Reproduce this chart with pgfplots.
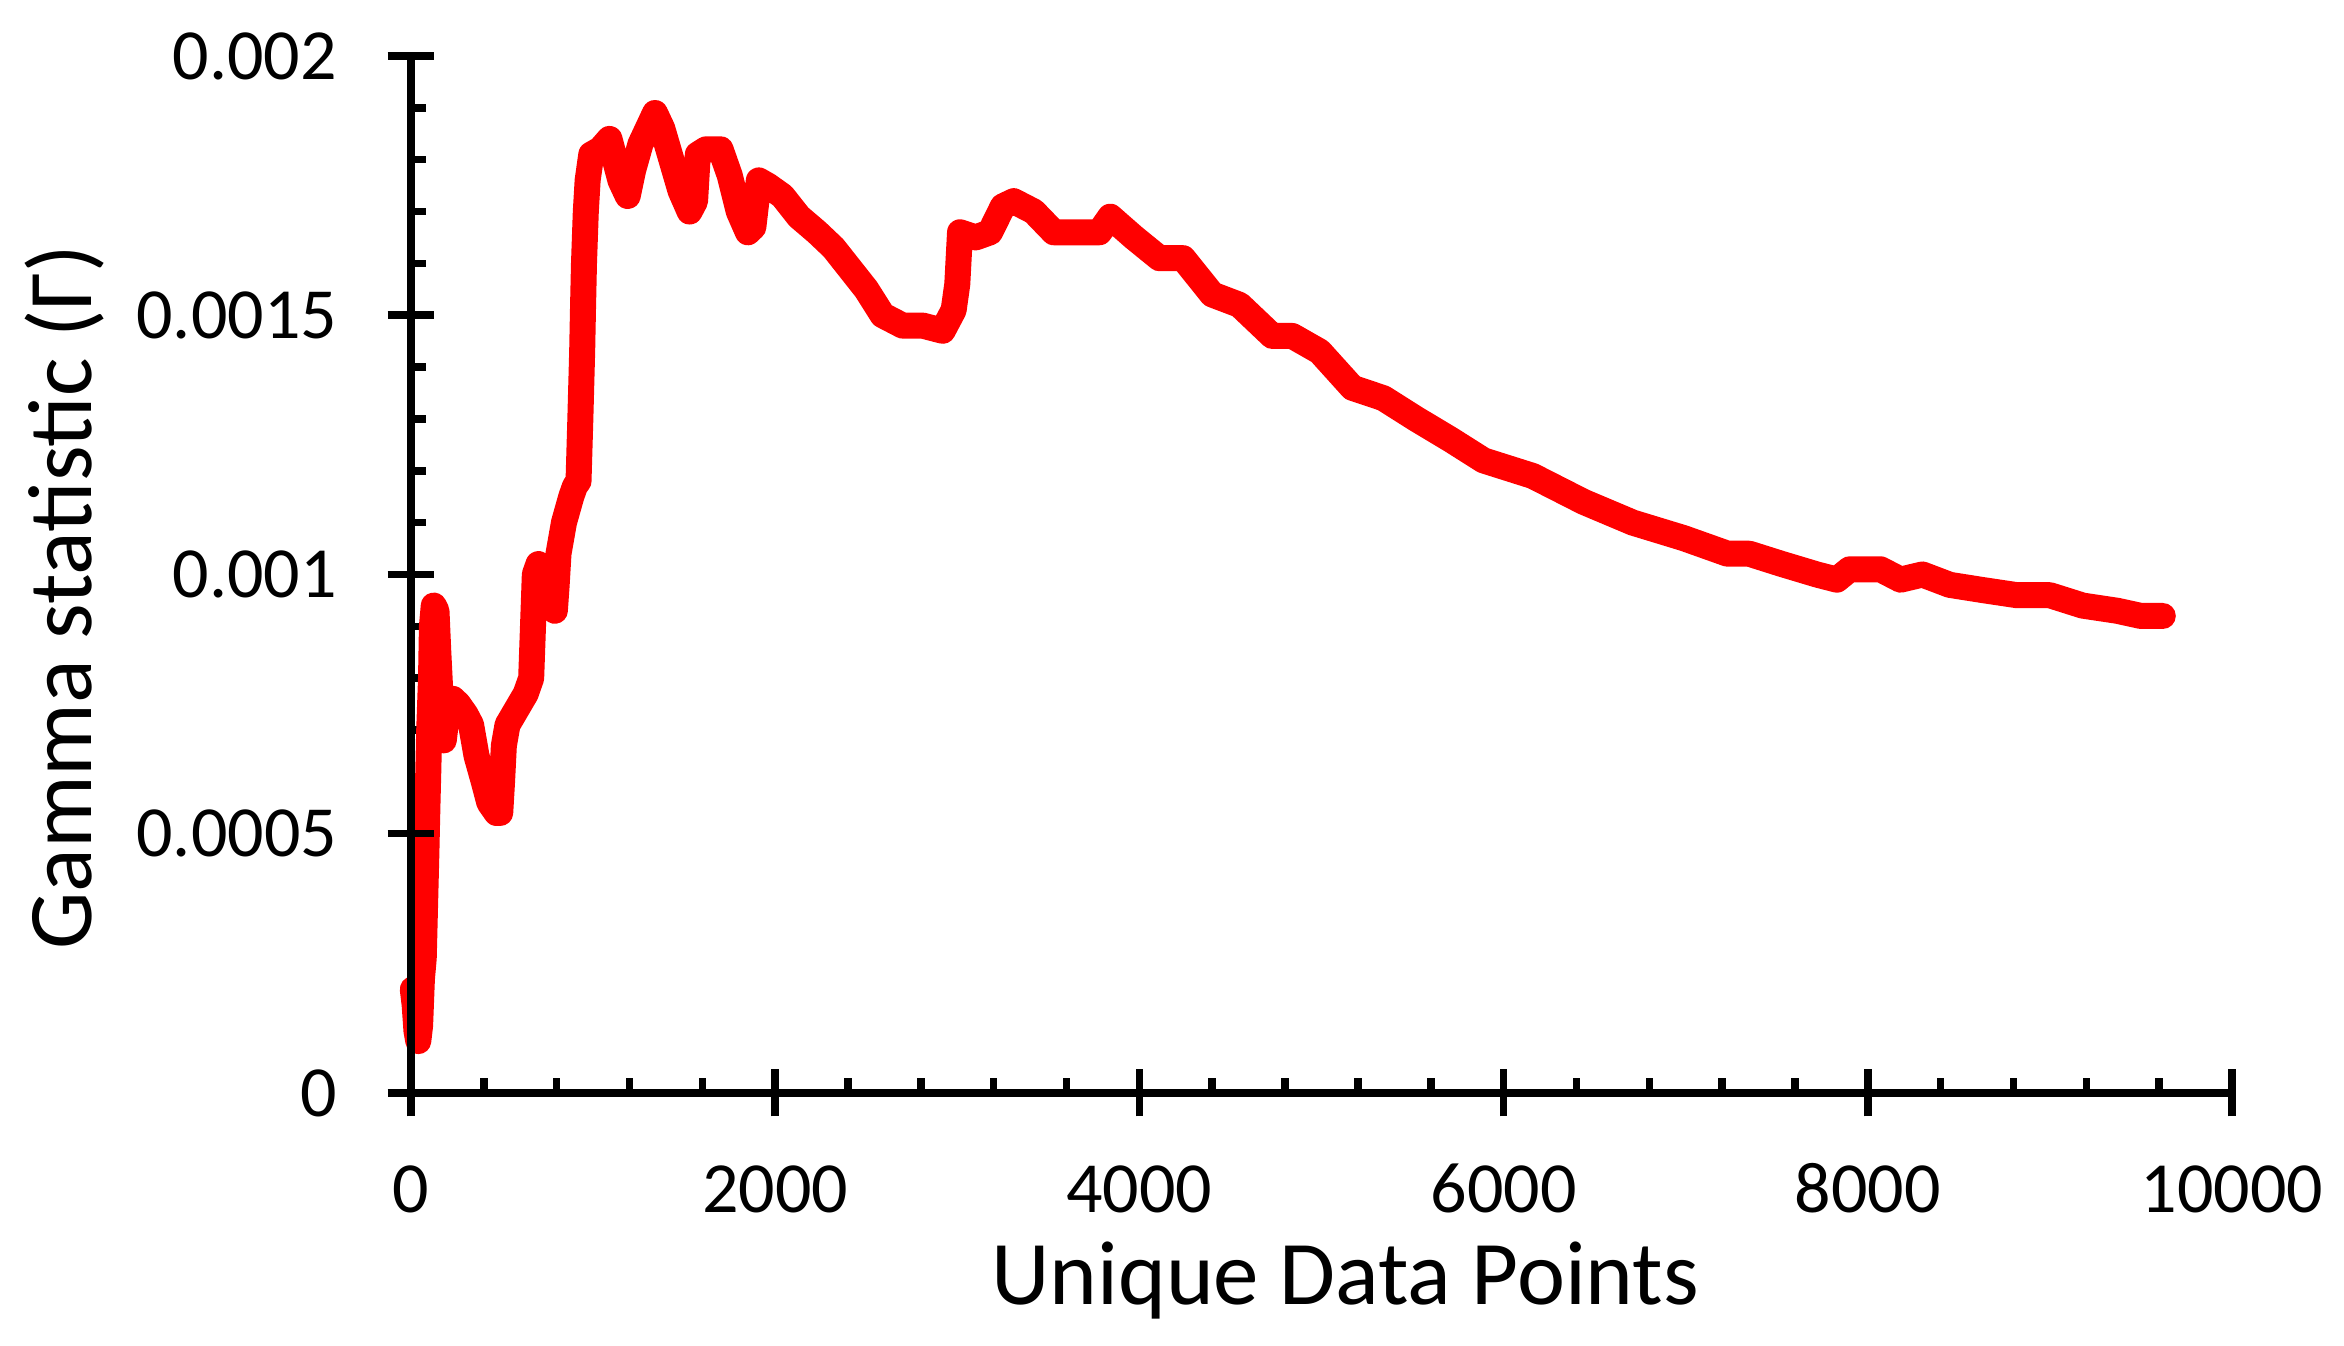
\documentclass[border=0pt]{standalone}
\usepackage{pgfplots}
\pgfplotsset{compat=1.18}
\usepackage{fontspec}
\setmainfont{Carlito}
\pgfplotstableread{
x y
10 0.00020
20 0.00017
30 0.00012
40 0.00010
50 0.00013
60 0.00022
70 0.00026
85 0.00047
90 0.00055
95 0.00062
100 0.00070
110 0.00080
115 0.00090
125 0.00094
140 0.00093
150 0.00085
160 0.00078
170 0.00072
180 0.00068
200 0.00074
230 0.00076
260 0.00075
300 0.00073
330 0.00071
360 0.00065
400 0.00060
430 0.00056
470 0.00054
490 0.00054
500 0.00060
510 0.00067
530 0.00071
580 0.00074
630 0.00077
660 0.00080
670 0.00090
680 0.00100
700 0.00102
740 0.00101
770 0.00095
790 0.00093
800 0.00098
810 0.00104
840 0.00110
880 0.00115
900 0.00117
920 0.00118
930 0.00130
940 0.00143
945 0.00152
950 0.00160
960 0.00170
970 0.00176
990 0.00181
1040 0.00182
1090 0.00184
1150 0.00176
1190 0.00173
1220 0.00178
1260 0.00183
1300 0.00186
1340 0.00189
1380 0.00186
1430 0.00180
1480 0.00174
1530 0.00170
1560 0.00172
1575 0.00181
1620 0.00182
1700 0.00182
1750 0.00177
1800 0.00170
1850 0.00166
1880 0.00167
1910 0.00176
1960 0.00175
2040 0.00173
2130 0.00169
2230 0.00166
2320 0.00163
2410 0.00159
2500 0.00155
2590 0.00150
2700 0.00148
2810 0.00148
2920 0.00147
2980 0.00151
3000 0.00156
3015 0.00166
3100 0.00165
3180 0.00166
3250 0.00171
3310 0.00172
3420 0.00170
3530 0.00166
3690 0.00166
3780 0.00166
3840 0.00169
3970 0.00165
4110 0.00161
4240 0.00161
4400 0.00154
4550 0.00152
4730 0.00146
4840 0.00146
4990 0.00143
5170 0.00136
5340 0.00134
5520 0.00130
5710 0.00126
5890 0.00122
6160 0.00119
6440 0.00114
6710 0.00110
6990 0.00107
7230 0.00104
7350 0.00104
7530 0.00102
7720 0.00100
7830 0.00099
7900 0.00101
8070 0.00101
8180 0.00099
8300 0.00100
8450 0.00098
8630 0.00097
8820 0.00096
9000 0.00096
9180 0.00094
9370 0.00093
9500 0.00092
9620 0.00092
}\gammadata
\begin{document}
\begin{tikzpicture}
\begin{axis}[
  at={(0,0)}, anchor=south west,
  scale only axis, width=364.2pt, height=207.4pt,
  xmin=0, xmax=10000, ymin=0, ymax=0.002,
  axis lines=left,
  axis line style={-, line width=1.5pt, black},
  xtick={0,2000,4000,6000,8000,10000},
  xticklabels={0,2000,4000,6000,8000,10000},
  ytick={0,0.0005,0.001,0.0015,0.002},
  yticklabels={0,0.0005,0.001,0.0015,0.002},
  scaled x ticks=false, scaled y ticks=false,
  minor x tick num=4, minor y tick num=4,
  tick align=inside,
  major tick length=0pt, minor tick length=3pt,
  tick style={line width=1.5pt, black},
  ticklabel style={font=\fontsize{14.4}{17}\selectfont, text=black},
  xticklabel style={anchor=base, inner sep=0pt, yshift=-24pt},
  yticklabel style={anchor=east, inner sep=0pt, xshift=-14.6pt},
  xlabel={Unique Data Points},
  ylabel={Gamma statistic (Γ)},
  label style={font=\fontsize{18.2}{21}\selectfont},
  xlabel style={at={(axis description cs:0.513,-0.2044)}, anchor=base, inner sep=0pt},
  ylabel style={at={(axis description cs:-0.1752,0.478)}, anchor=base, rotate=0, inner sep=0pt},
  clip=false,
]
\addplot[red, line width=5.2pt, line join=round, line cap=round] table[x=x,y=y] {\gammadata};
\end{axis}
\begin{axis}[
  at={(0,0)}, anchor=south west,
  scale only axis, width=364.2pt, height=207.4pt,
  xmin=0, xmax=10000, ymin=0, ymax=0.002,
  axis lines=left,
  axis line style={-, line width=1.5pt, black},
  xtick={0,2000,4000,6000,8000,10000},
  ytick={0,0.0005,0.001,0.0015,0.002},
  xticklabels={}, yticklabels={},
  scaled x ticks=false, scaled y ticks=false,
  minor tick num=0,
  tick align=center,
  major tick length=9.4pt,
  tick style={line width=1.5pt, black},
]
\end{axis}
\pgfresetboundingbox
\path[use as bounding box] (-82.2pt,-50.6pt) rectangle (386.6pt,218.6pt);
\end{tikzpicture}
\end{document}
